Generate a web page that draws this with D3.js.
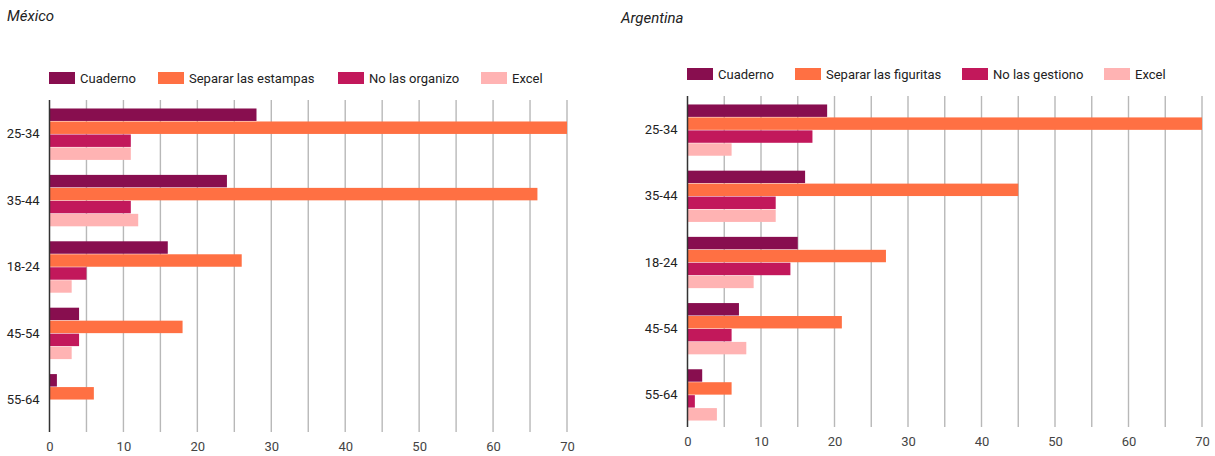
<!DOCTYPE html>
<html>
<head>
<meta charset="utf-8">
<script src="https://cdn.jsdelivr.net/npm/d3@7"></script>
<style>
  body { margin: 0; background: #fff; }
  text { font-family: Roboto, "Noto Sans", sans-serif; }
</style>
</head>
<body>
<div id="chart"></div>
<script>
'use strict'

var width = 1215;
var height = 456;

// age groups, in the order the charts show them
var ageGroups = ['25-34', '35-44', '18-24', '45-54', '55-64'];
var xTicks = [0, 10, 20, 30, 40, 50, 60, 70];
var gridValues = [5, 10, 15, 20, 25, 30, 35, 40, 45, 50, 55, 60, 65, 70];

// México
var mxSeries = ['Cuaderno', 'Separar las estampas', 'No las organizo', 'Excel'];
var mxCuaderno = [28, 24, 16, 4, 1];
var mxSeparar = [70, 66, 26, 18, 6];
var mxNoOrganizo = [11, 11, 5, 4, 0];
var mxExcel = [11, 12, 3, 3, 0];

// Argentina
var arSeries = ['Cuaderno', 'Separar las figuritas', 'No las gestiono', 'Excel'];
var arCuaderno = [19, 16, 15, 7, 2];
var arSeparar = [70, 45, 27, 21, 6];
var arNoGestiono = [17, 12, 14, 6, 1];
var arExcel = [6, 12, 9, 8, 4];

var colors = ['#880e4f', '#ff7043', '#c2185b', '#ffb3b3'];

var svg = d3.select('#chart').append('svg')
  .attr('width', width)
  .attr('height', height);

//draw one chart from its settings

function drawChart(c){
  var g = svg.append('g');

  g.append('text')
    .attr('x', c.titleX)
    .attr('y', c.titleY)
    .attr('font-size', 15)
    .attr('font-style', 'italic')
    .attr('fill', '#222')
    .text(c.title);

  //legend
  c.series.forEach(function(s, i){
    g.append('rect')
      .attr('x', c.legendX[i])
      .attr('y', c.legendY - 6)
      .attr('width', 26)
      .attr('height', 12)
      .attr('fill', colors[i]);
    g.append('text')
      .attr('x', c.legendX[i] + 31)
      .attr('y', c.legendY)
      .attr('dy', '0.35em')
      .attr('font-size', 13)
      .attr('fill', '#222')
      .text(s);
  });

  var x = d3.scaleLinear().domain([0, 70]).range([c.left, c.right]);

  var y = d3.scaleBand().domain(ageGroups)
    .range([c.top, c.bottom])
    .paddingInner(0.21)
    .paddingOuter(0.105);

  var y1 = d3.scaleBand().domain(d3.range(c.series.length))
    .range([0, y.bandwidth()])
    .padding(0.04);

  //gridlines every 5
  g.selectAll('.grid').data(gridValues).enter().append('line')
    .attr('x1', function(d){return x(d);})
    .attr('x2', function(d){return x(d);})
    .attr('y1', c.top)
    .attr('y2', c.bottom)
    .attr('stroke', '#b8b8b8')
    .attr('stroke-width', 1.4);

  //bars
  var rows = ageGroups.map(function(a, i){
    return c.values.map(function(v, j){return {age: a, k: j, v: v[i]};});
  });

  g.selectAll('.grp').data(rows).enter().append('g')
    .attr('transform', function(d){return 'translate(0,' + (y(d[0].age) + 1) + ')';})
    .selectAll('rect').data(function(d){return d;}).enter().append('rect')
      .attr('x', x(0))
      .attr('y', function(d){return y1(d.k);})
      .attr('width', function(d){return x(d.v) - x(0);})
      .attr('height', y1.bandwidth())
      .attr('fill', function(d){return colors[d.k];});

  //baseline
  g.append('line')
    .attr('x1', x(0)).attr('x2', x(0))
    .attr('y1', c.top).attr('y2', c.bottom)
    .attr('stroke', '#333')
    .attr('stroke-width', 1.5);

  //category labels
  var yAxis = g.append('g')
    .attr('transform', 'translate(' + (x(0) - 10) + ',1)')
    .call(d3.axisLeft(y).tickSize(0).tickPadding(0));
  yAxis.select('.domain').remove();
  yAxis.selectAll('text').attr('font-size', 13).attr('fill', '#222')
    .style('font-family', 'Roboto, sans-serif');

  //value labels
  var xAxis = g.append('g')
    .attr('transform', 'translate(0,' + c.tickY + ')')
    .call(d3.axisBottom(x).tickValues(xTicks).tickSize(0).tickPadding(0));
  xAxis.select('.domain').remove();
  xAxis.selectAll('text').attr('font-size', 13).attr('fill', '#444')
    .attr('dy', '0.35em').attr('y', 0)
    .style('font-family', 'Roboto, sans-serif');
}

drawChart({
  title: 'México', titleX: 7, titleY: 21,
  series: mxSeries,
  values: [mxCuaderno, mxSeparar, mxNoOrganizo, mxExcel],
  legendX: [49, 158, 338, 481], legendY: 78,
  left: 49.5, right: 567, top: 100, bottom: 432, tickY: 446
});

drawChart({
  title: 'Argentina', titleX: 621, titleY: 23,
  series: arSeries,
  values: [arCuaderno, arSeparar, arNoGestiono, arExcel],
  legendX: [687, 795, 962, 1104], legendY: 74,
  left: 687.5, right: 1202, top: 96, bottom: 427, tickY: 441
});
</script>
</body>
</html>
